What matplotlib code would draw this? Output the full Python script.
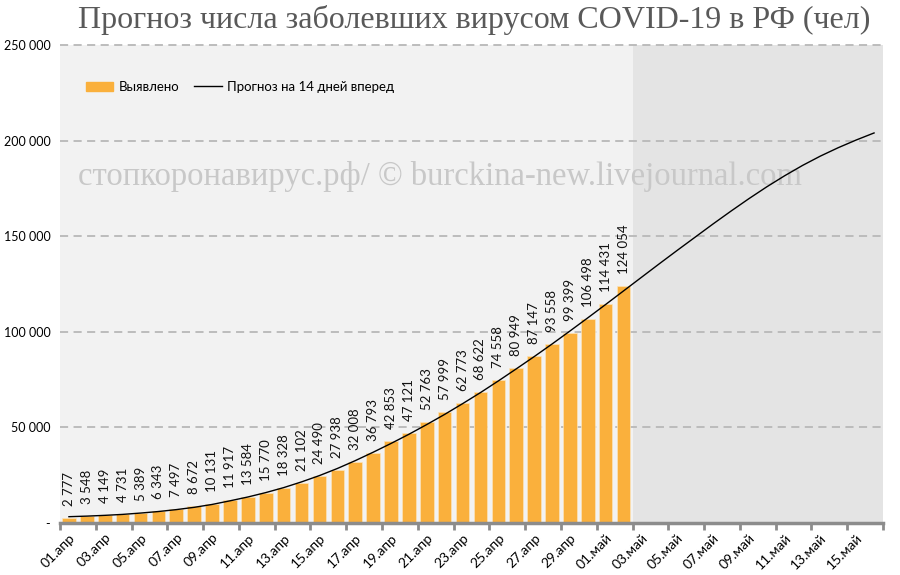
import numpy as np
import matplotlib
matplotlib.use('Agg')
import matplotlib.pyplot as plt
from matplotlib.patches import Patch
from matplotlib.lines import Line2D

plt.rcParams['font.family'] = ['Lato', 'DejaVu Sans']

# daily dates: 01.апр .. 16.май
days = ['%02d.апр' % d for d in range(1, 31)] + ['%02d.май' % d for d in range(1, 17)]

# confirmed cases (01.апр .. 02.май)
confirmed = [2777, 3548, 4149, 4731, 5389, 6343, 7497, 8672, 10131, 11917,
             13584, 15770, 18328, 21102, 24490, 27938, 32008, 36793, 42853, 47121,
             52763, 57999, 62773, 68622, 74558, 80949, 87147, 93558, 99399, 106498,
             114431, 124054]

# forecast curve (01.апр .. 16.май)
forecast = [3300, 3600, 4000, 4500, 5200, 6000, 7000, 8200, 9700, 11600,
            13600, 15900, 18500, 21500, 24800, 28500, 32600, 37000, 41600, 46400,
            51500, 56800, 62400, 68200, 74300, 80600, 87000, 93600, 100400, 107300,
            114300, 121400, 128500, 135600, 142600, 149500, 156400, 163100, 169600, 175800,
            181600, 187000, 191900, 196300, 200300, 204000]

title = 'Прогноз числа заболевших вирусом COVID-19 в РФ (чел)'
watermark = 'стопкоронавирус.рф/ © burckina-new.livejournal.com'
bar_col = '#FAB03C'

fig = plt.figure(figsize=(9, 5.75), dpi=100)
ax = fig.add_axes([60/900, 1-523/575, 823/900, 478/575])
ax.set_facecolor('#f2f2f2')

n = len(days)
x = np.arange(n)
nb = len(confirmed)
ax.axvspan(nb - 0.5, n - 0.5, color='#e4e4e4', lw=0, zorder=0)

for yv in [50000, 100000, 150000, 200000, 250000]:
    ax.axhline(yv, color='#b8b8b8', lw=1.3, ls=(0, (4.5, 3)), zorder=1, clip_on=False)

ax.bar(x[:nb], confirmed, width=0.76, color=bar_col, edgecolor='#fbe3bb', lw=0.5, zorder=2)
ax.plot(x, forecast, color='black', lw=1.0, zorder=4)

for xi, v in zip(x[:nb], confirmed):
    ax.annotate(f'{v:,}'.replace(',', ' '), (xi, v), xytext=(0, 12), textcoords='offset pixels',
                rotation=90, ha='center', va='bottom', fontsize=9.5, color='#111111', zorder=5)

ax.set_xlim(-0.5, n - 0.5)
ax.set_ylim(0, 250000)

# labels at bar centers every 2 days, tick marks at category edges
ax.set_xticks(x[::2])
ax.set_xticklabels(days[::2], rotation=45, ha='right', rotation_mode='anchor', fontsize=10)
ax.tick_params(axis='x', length=0, pad=6)
ax.set_xticks(np.append(x[::2] - 0.5, n - 0.5), minor=True)
ax.tick_params(axis='x', which='minor', length=5, width=2, color='#8c8c8c', direction='out')

yt = [0, 50000, 100000, 150000, 200000, 250000]
ax.set_yticks(yt)
ax.set_yticklabels(['-'] + [f'{v:,}'.replace(',', ' ') for v in yt[1:]], fontsize=9)
ax.tick_params(axis='y', length=0, pad=7)

for s in ['top', 'right', 'left']:
    ax.spines[s].set_visible(False)
ax.spines['bottom'].set_color('#8c8c8c')
ax.spines['bottom'].set_linewidth(2.5)
ax.spines['bottom'].set_zorder(6)

handles = [Patch(color=bar_col), Line2D([0], [0], color='black', lw=1)]
ax.legend(handles, ['Выявлено', 'Прогноз на 14 дней вперед'], loc='center left',
          bbox_to_anchor=(0.02, 0.912), ncol=2, frameon=False, fontsize=9.5,
          handlelength=2.1, handleheight=0.7, handletextpad=0.4, columnspacing=1.1,
          borderpad=0.2)

fig.text(0.527, 1-20/575, title, ha='center', va='center', fontsize=23,
         family='Liberation Serif', color='#595959')
ax.text(18/823, (523-177)/478, watermark, transform=ax.transAxes,
        ha='left', va='center', fontsize=23.5, family='Liberation Serif', color='#c8c8c8', zorder=3)

fig.savefig('out.png', dpi=100)
